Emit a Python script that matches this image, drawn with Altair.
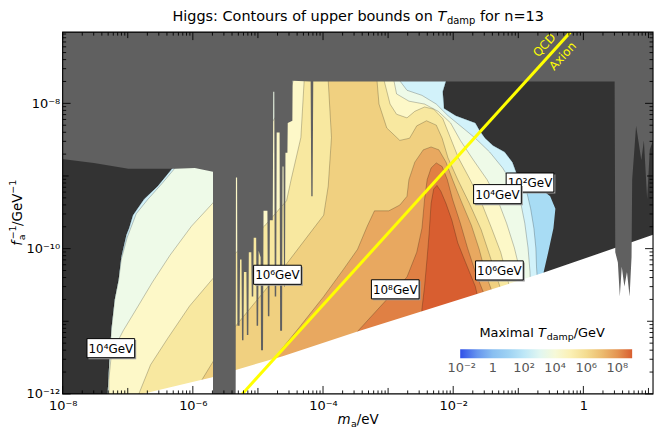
import numpy as np
import pandas as pd
import altair as alt

# ---------------- axes (log10 units) ----------------
X_DOMAIN = [-8.0, 1.07]     # log10(m_a / eV)
Y_DOMAIN = [-12.0, -7.02]   # log10(f_a^-1 / GeV^-1)
X_TICK_LABELS = {-8: "10⁻⁸", -6: "10⁻⁶", -4: "10⁻⁴", -2: "10⁻²", 0: "1"}
Y_TICK_LABELS = {-12: "10⁻¹²", -10: "10⁻¹⁰", -8: "10⁻⁸"}
CBAR_TICK_LABELS = {-2: "10⁻²", 0: "1", 2: "10²", 4: "10⁴", 6: "10⁶", 8: "10⁸"}
X_EVEN = [-8, -6, -4, -2, 0]
X_ODD = [-7, -5, -3, -1, 1]
Y_EVEN = [-12, -10, -8]
Y_ODD = [-11, -9]

# ---------------- colour map: log10(T_damp/GeV) -> colour ----------------
CMAP_STOPS = [-2.1, -0.5, 1.5, 2.5, 3.5, 4.5, 5.5, 6.5, 7.5, 8.5, 8.95]
CMAP_COLORS = ["#3050e8", "#7fb5f0", "#a8dcf4", "#d2f2fa", "#eefae8", "#fdf8c8",
               "#f8e8a0", "#f0d080", "#e8a860", "#e08044", "#d85e30"]

# ---------------- filled contour regions T >= 10^k ----------------
BAND_VALUES = [1.5, 2.5, 3.5, 4.5, 5.5, 6.5, 7.5, 8.5, 8.95]

LEFT_EDGE = [(-7.31, -12.0), (-7.28, -11.50), (-7.25, -11.10), (-7.20, -10.70), (-7.14, -10.43),
             (-7.10, -10.12), (-7.02, -9.81), (-6.98, -9.72), (-6.92, -9.54), (-6.75, -9.32),
             (-6.54, -9.14), (-6.32, -8.90), (-6.20, -8.78), (-6.20, -7.44)]
RIGHT_EDGE_TOP = [(-2.11, -7.44), (-2.11, -7.69), (-2.16, -7.84), (-2.14, -8.07), (-1.96, -8.17),
                  (-1.66, -8.27), (-1.59, -8.38), (-1.51, -8.48), (-1.39, -8.58), (-1.21, -8.67),
                  (-1.09, -8.81), (-1.02, -8.98), (-0.94, -9.05)]
RIGHT_EDGE_LOW = [(-0.69, -9.15), (-0.51, -9.28), (-0.43, -9.45), (-0.46, -9.72), (-0.54, -10.05),
                  (-0.61, -10.32), (-0.61, -12.0)]
LINE_1E2_LOW = [(-0.87, -9.22), (-0.81, -9.45), (-0.76, -9.72), (-0.73, -9.99), (-0.72, -10.25),
                (-0.69, -10.66), (-0.69, -12.0)]
REGION_1E3 = [(-7.31, -12.0), (-7.28, -11.50), (-7.25, -11.10), (-7.20, -10.70), (-7.14, -10.43),
              (-7.10, -10.15), (-7.01, -9.85), (-6.87, -9.52), (-6.69, -9.32), (-6.47, -9.10),
              (-6.17, -8.78), (-6.02, -8.51), (-6.02, -7.44), (-2.82, -7.44), (-2.82, -7.69),
              (-2.71, -7.82), (-2.48, -7.89), (-2.26, -8.01), (-2.08, -8.17), (-1.89, -8.31),
              (-1.66, -8.48), (-1.44, -8.67), (-1.24, -8.89), (-1.09, -9.11), (-0.96, -9.38),
              (-0.90, -9.65), (-0.85, -9.99), (-0.82, -10.32), (-0.81, -10.66), (-0.81, -12.0)]
REGION_1E4 = [(-7.29, -12.0), (-7.29, -11.80), (-7.25, -11.44), (-7.07, -11.13), (-6.84, -10.79),
              (-6.62, -10.46), (-6.35, -10.09), (-6.02, -9.69), (-5.70, -9.38), (-5.34, -8.98),
              (-4.97, -8.51), (-4.67, -8.11), (-4.49, -7.78), (-4.37, -7.44), (-2.91, -7.44),
              (-2.91, -7.69), (-2.87, -7.87), (-2.68, -7.97), (-2.44, -8.01), (-2.23, -8.11),
              (-2.04, -8.27), (-1.89, -8.51), (-1.69, -8.78), (-1.48, -9.05), (-1.32, -9.32),
              (-1.18, -9.65), (-1.06, -9.99), (-0.97, -10.32), (-0.91, -10.66), (-0.91, -12.0)]
REGION_1E5 = [(-6.83, -12.0), (-6.65, -11.60), (-6.39, -11.24), (-6.05, -10.79), (-5.70, -10.42),
              (-5.27, -9.99), (-4.90, -9.69), (-4.56, -9.34), (-4.49, -9.05), (-4.34, -8.47),
              (-4.29, -7.69), (-4.29, -7.44), (-3.06, -7.44), (-3.06, -7.69), (-2.97, -8.01),
              (-2.87, -8.15), (-2.71, -8.20), (-2.59, -8.11), (-2.44, -8.05), (-2.30, -8.08),
              (-2.16, -8.21), (-2.04, -8.48), (-1.92, -8.75), (-1.74, -9.05), (-1.56, -9.38),
              (-1.41, -9.72), (-1.27, -10.05), (-1.17, -10.39), (-1.09, -10.72), (-1.09, -12.0)]
REGION_1E6 = [(-5.99, -12.0), (-5.87, -11.82), (-5.70, -11.57), (-5.42, -11.15), (-4.97, -10.66),
              (-4.56, -10.21), (-4.22, -9.81), (-3.99, -9.54), (-3.92, -9.14), (-3.87, -8.47),
              (-3.92, -7.69), (-3.92, -7.44), (-3.17, -7.44), (-3.17, -7.69), (-3.14, -8.01),
              (-3.02, -8.34), (-2.82, -8.51), (-2.67, -8.48), (-2.56, -8.31), (-2.41, -8.24),
              (-2.26, -8.30), (-2.17, -8.48), (-2.08, -8.75), (-1.93, -9.05), (-1.75, -9.38),
              (-1.57, -9.74), (-1.44, -10.09), (-1.32, -10.42), (-1.21, -10.72), (-1.21, -12.0)]
REGION_1E7 = [(-5.04, -12.0), (-4.77, -11.53), (-4.37, -11.09), (-3.99, -10.66), (-3.69, -10.29),
              (-3.47, -10.01), (-3.32, -9.69), (-3.21, -9.48), (-2.99, -9.48), (-2.82, -9.40),
              (-2.71, -9.28), (-2.68, -9.05), (-2.59, -8.81), (-2.46, -8.64), (-2.34, -8.60),
              (-2.22, -8.64), (-2.11, -8.81), (-2.01, -9.05), (-1.88, -9.34), (-1.72, -9.68),
              (-1.60, -10.01), (-1.50, -10.35), (-1.36, -10.70), (-1.36, -12.0)]
REGION_1E8 = [(-3.92, -12.0), (-3.47, -11.14), (-3.02, -10.70), (-2.71, -10.39), (-2.56, -10.05),
              (-2.48, -9.72), (-2.44, -9.32), (-2.40, -9.05), (-2.34, -8.89), (-2.26, -8.82),
              (-2.17, -8.87), (-2.09, -9.05), (-2.01, -9.32), (-1.89, -9.65), (-1.78, -9.99),
              (-1.66, -10.32), (-1.51, -10.66), (-1.51, -12.0)]
REGION_1E9 = [(-2.56, -12.0), (-2.48, -10.83), (-2.44, -10.52), (-2.40, -10.12), (-2.37, -9.79),
              (-2.34, -9.38), (-2.30, -9.18), (-2.25, -9.13), (-2.19, -9.21), (-2.11, -9.38),
              (-2.02, -9.61), (-1.93, -9.92), (-1.81, -10.19), (-1.66, -10.52), (-1.59, -10.79),
              (-1.59, -12.0)]
REGION_1E1 = LEFT_EDGE + RIGHT_EDGE_TOP + RIGHT_EDGE_LOW
REGION_1E2 = LEFT_EDGE + RIGHT_EDGE_TOP + LINE_1E2_LOW
REGIONS = [REGION_1E1, REGION_1E2, REGION_1E3, REGION_1E4, REGION_1E5,
           REGION_1E6, REGION_1E7, REGION_1E8, REGION_1E9]

# unphysical (white) region, bottom right
WHITE_REGION = [(-6.78, -12.0), (-5.70, -11.77), (-5.42, -11.69), (-4.62, -11.48), (-3.47, -11.14),
                (-1.66, -10.63), (-0.64, -10.34), (1.07, -9.81), (1.10, -9.80), (1.10, -12.1),
                (-6.78, -12.1)]

# excluded (grey) region: top band, right column and the spiky left part
GREY_RIGHT = [(-8.05, -7.0), (1.10, -7.0), (1.10, -8.51), (1.07, -8.51), (1.02, -8.64), (0.98, -9.32),
              (0.93, -8.51), (0.89, -8.78), (0.81, -8.31), (0.75, -9.05), (0.74, -10.12), (0.71, -10.66),
              (0.67, -10.32), (0.63, -10.52), (0.59, -10.25), (0.56, -10.66), (0.53, -10.19),
              (0.49, -10.05), (0.48, -7.70),
              (-4.15, -7.70), (-4.16, -9.28), (-4.18, -9.28), (-4.19, -7.70)]
GREY_SPIKES = [(-4.467, -7.69), (-4.471, -8.24), (-4.542, -8.27), (-4.547, -8.68), (-4.577, -8.68),
               (-4.584, -10.52), (-4.599, -10.52), (-4.607, -8.87), (-4.622, -8.87), (-4.629, -11.13),
               (-4.659, -11.13), (-4.667, -8.40), (-4.712, -8.40), (-4.719, -10.66), (-4.742, -10.66),
               (-4.749, -7.84), (-4.764, -7.84), (-4.772, -9.61), (-4.817, -9.61), (-4.824, -10.93),
               (-4.847, -10.93), (-4.854, -9.48), (-4.914, -9.48), (-4.922, -11.40), (-4.952, -11.40),
               (-4.959, -10.12), (-4.989, -10.03), (-4.997, -11.06), (-5.020, -11.06), (-5.027, -9.85),
               (-5.065, -9.85), (-5.072, -10.66), (-5.095, -10.66), (-5.102, -10.05), (-5.140, -10.05),
               (-5.147, -11.19), (-5.170, -11.19), (-5.177, -10.32), (-5.215, -10.32), (-5.222, -11.26),
               (-5.245, -11.26), (-5.252, -10.15), (-5.275, -10.15), (-5.282, -11.06), (-5.315, -11.06),
               (-5.320, -9.02), (-5.338, -9.02), (-5.342, -12.1)]
GREY_LEFT = [(-5.69, -12.1), (-5.69, -8.94), (-5.97, -8.89), (-6.27, -8.90), (-6.99, -8.90),
             (-7.52, -8.82), (-8.05, -8.76)]
GREY_REGION = GREY_RIGHT + GREY_SPIKES + GREY_LEFT

# QCD axion line
AXION_X = [-5.24, -0.20]
AXION_Y = [-12.0, -7.02]

# contour labels
CONTOUR_LABELS = ["10⁴GeV", "10⁶GeV", "10⁸GeV", "10⁶GeV", "10²GeV", "10⁴GeV"]
CONTOUR_LABEL_X = [-7.26, -4.70, -2.89, -1.29, -0.82, -1.32]
CONTOUR_LABEL_Y = [-11.37, -10.36, -10.56, -10.30, -9.09, -9.25]
QCD_TEXT = ["QCD", "Axion"]
QCD_TEXT_X = [-0.60, -0.32]
QCD_TEXT_Y = [-7.20, -7.35]

# ---------------- chart ----------------
W, H = 594, 364
FONT = "DejaVu Sans"
xs = alt.Scale(domain=X_DOMAIN, nice=False, zero=False)
ys = alt.Scale(domain=Y_DOMAIN, nice=False, zero=False)
cscale = alt.Scale(domain=CMAP_STOPS, range=CMAP_COLORS, interpolate="rgb", clamp=True)


def label_expr(mapping):
    return "".join(f"datum.value == {k} ? '{v}' : " for k, v in mapping.items()) + "''"


x_axis = alt.Axis(values=list(X_TICK_LABELS), labelExpr=label_expr(X_TICK_LABELS), title=None,
                  ticks=False, domain=False, grid=False, labelFlush=False, labelOverlap=False,
                  labelFont=FONT, labelFontSize=13, labelColor="black", labelPadding=6)
y_axis = alt.Axis(values=list(Y_TICK_LABELS), labelExpr=label_expr(Y_TICK_LABELS), title=None,
                  ticks=False, domain=False, grid=False, labelFlush=False, labelOverlap=False,
                  labelFont=FONT, labelFontSize=13, labelColor="black", labelPadding=3)
legend = alt.Legend(orient="none", legendX=400, legendY=319, direction="horizontal",
                    gradientLength=173, gradientThickness=9, title=None,
                    values=list(CBAR_TICK_LABELS), labelExpr=label_expr(CBAR_TICK_LABELS),
                    labelFont=FONT, labelFontSize=13, labelColor="#555555",
                    labelOverlap=False, gradientStrokeWidth=0, labelOffset=4, padding=0)


def poly_df(verts, value=None):
    df = pd.DataFrame({"x": [v[0] for v in verts], "y": [v[1] for v in verts],
                       "i": list(range(len(verts)))})
    if value is not None:
        df["v"] = value
    return df


one = alt.Data(values=[{}])
layers = [alt.Chart(one).mark_rect(fill="#333333", strokeWidth=0)
          .encode(x=alt.value(0), x2=alt.value(W), y=alt.value(0), y2=alt.value(H))]

for k, (verts, val) in enumerate(zip(REGIONS, BAND_VALUES)):
    sw = 0 if k == 0 else 0.6
    layers.append(
        alt.Chart(poly_df(verts, val)).mark_line(clip=True, stroke="#000000", strokeOpacity=0.38,
                                                 strokeWidth=sw)
        .encode(x=alt.X("x:Q", scale=xs, axis=x_axis), y=alt.Y("y:Q", scale=ys, axis=y_axis),
                order="i:Q", fill=alt.Fill("v:Q", scale=cscale, legend=legend))
    )

layers.append(
    alt.Chart(poly_df(WHITE_REGION)).mark_line(clip=True, fill="white", strokeWidth=0)
    .encode(x=alt.X("x:Q", scale=xs), y=alt.Y("y:Q", scale=ys), order="i:Q")
)
layers.append(
    alt.Chart(poly_df(GREY_REGION)).mark_line(clip=True, fill="#606060", strokeWidth=0)
    .encode(x=alt.X("x:Q", scale=xs), y=alt.Y("y:Q", scale=ys), order="i:Q")
)
layers.append(
    alt.Chart(pd.DataFrame({"x": AXION_X, "y": AXION_Y})).mark_line(clip=True, color="#ffff00",
                                                                   strokeWidth=3)
    .encode(x=alt.X("x:Q", scale=xs), y=alt.Y("y:Q", scale=ys))
)

# contour labels (box + text, drawn label by label so overlaps stack correctly)
BOX = "M-1,-0.4L1,-0.4L1,0.4L-1,0.4Z"
draw_order = [4, 0, 1, 2, 3, 5]
for j in draw_order:
    d = pd.DataFrame({"x": [CONTOUR_LABEL_X[j]], "y": [CONTOUR_LABEL_Y[j]], "t": [CONTOUR_LABELS[j]]})
    base = alt.Chart(d)
    layers.append(base.mark_point(shape=BOX, size=48 * 48, filled=True, fill="#9a9a9a", opacity=1,
                                  strokeWidth=0, xOffset=1.5, yOffset=1.5)
                  .encode(x=alt.X("x:Q", scale=xs), y=alt.Y("y:Q", scale=ys)))
    layers.append(base.mark_point(shape=BOX, size=48 * 48, filled=True, fill="white", opacity=1,
                                  stroke="black", strokeWidth=1)
                  .encode(x=alt.X("x:Q", scale=xs), y=alt.Y("y:Q", scale=ys)))
    layers.append(base.mark_text(font=FONT, fontSize=12, color="black", align="center",
                                 baseline="middle", dy=0.5)
                  .encode(x=alt.X("x:Q", scale=xs), y=alt.Y("y:Q", scale=ys), text="t:N"))

layers.append(
    alt.Chart(pd.DataFrame({"x": QCD_TEXT_X, "y": QCD_TEXT_Y, "t": QCD_TEXT}))
    .mark_text(font=FONT, fontSize=12, color="#ffff00", angle=312.5, align="center", baseline="middle")
    .encode(x=alt.X("x:Q", scale=xs), y=alt.Y("y:Q", scale=ys), text="t:N")
)

# inward ticks on all four sides
X_MINOR = [n + np.log10(k) for n in range(-8, 1) for k in range(2, 10)]
Y_MINOR = [n + np.log10(k) for n in range(-12, -7) for k in range(2, 10)]
for vals, length in [(X_EVEN, 8), (X_ODD, 6), (X_MINOR, 3.5)]:
    d = alt.Chart(pd.DataFrame({"t": vals}))
    layers.append(d.mark_rule(color="black", strokeWidth=0.9)
                  .encode(x=alt.X("t:Q", scale=xs), y=alt.value(H), y2=alt.value(H - length)))
    layers.append(d.mark_rule(color="black", strokeWidth=0.9)
                  .encode(x=alt.X("t:Q", scale=xs), y=alt.value(0), y2=alt.value(length)))
for vals, length in [(Y_EVEN, 8), (Y_ODD, 6), (Y_MINOR, 3.5)]:
    d = alt.Chart(pd.DataFrame({"t": vals}))
    layers.append(d.mark_rule(color="black", strokeWidth=0.9)
                  .encode(y=alt.Y("t:Q", scale=ys), x=alt.value(0), x2=alt.value(length)))
    layers.append(d.mark_rule(color="black", strokeWidth=0.9)
                  .encode(y=alt.Y("t:Q", scale=ys), x=alt.value(W), x2=alt.value(W - length)))

layers.append(alt.Chart(one).mark_rect(filled=False, stroke="black", strokeWidth=1.1)
              .encode(x=alt.value(0), x2=alt.value(W), y=alt.value(0), y2=alt.value(H)))


def txt(s, x, y, size, italic=False, angle=0, color="black"):
    kw = dict(text=s, font=FONT, fontSize=size, color=color, align="left", baseline="alphabetic")
    if italic:
        kw["fontStyle"] = "italic"
    if angle:
        kw["angle"] = angle
    return alt.Chart(one).mark_text(**kw).encode(x=alt.value(x), y=alt.value(y))


# title
layers += [txt("Higgs: Contours of upper bounds on", 110.5, -11, 14.5),
           txt("T", 377.2, -11, 14.5, italic=True),
           txt("damp", 386.7, -8, 10),
           txt("for n=13", 419.9, -11, 14.5)]
# x axis title
layers += [txt("m", 276.5, H + 30, 13.5, italic=True),
           txt("a", 290.2, H + 33, 9.5),
           txt("/eV", 296.0, H + 30, 13.5)]
# y axis title (rotated)
layers += [txt("f", -41, 215, 13.5, italic=True, angle=270),
           txt("a", -38, 209.5, 9.5, angle=270),
           txt("−1", -47, 208.5, 9.5, angle=270),
           txt("/GeV", -41, 195.0, 13.5, angle=270),
           txt("−1", -47, 162.5, 9.5, angle=270)]
# colour bar title
layers += [txt("Maximal", 419.3, 307, 13),
           txt("T", 478.2, 307, 13, italic=True),
           txt("damp", 487.1, 310, 9.5),
           txt("/GeV", 514.2, 307, 13)]

chart = (
    alt.layer(*layers)
    .properties(width=W, height=H, padding={"left": 0, "top": 0, "right": 2, "bottom": 0})
    .configure(font=FONT)
    .configure_view(fill="#333333", strokeWidth=0)
)

chart.save("out.html", embed_options={"renderer": "svg", "actions": False})
